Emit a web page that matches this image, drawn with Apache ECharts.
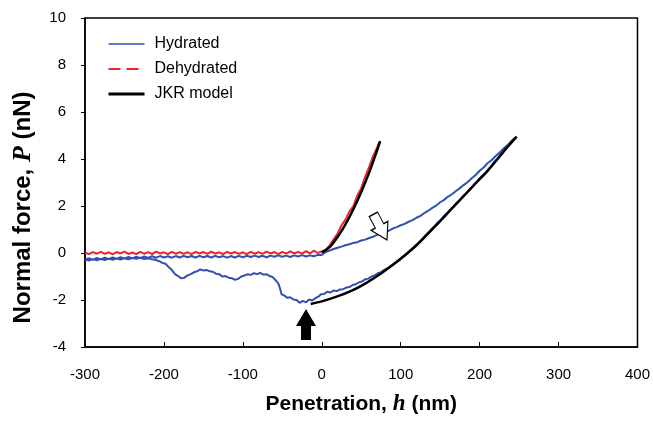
<!DOCTYPE html>
<html>
<head>
<meta charset="utf-8">
<script src="https://cdn.jsdelivr.net/npm/echarts@6/dist/echarts.min.js"></script>
<style>
html,body{margin:0;padding:0;background:#fff;}
#chart{width:653px;height:422px;}
</style>
</head>
<body>
<div id="chart"></div>
<script>
// ---- Data ----
const xTicks = [-300, -200, -100, 0, 100, 200, 300, 400];
const yTicks = [-4, -2, 0, 2, 4, 6, 8, 10];

// Hydrated: approach (flat then rising) followed by retraction (JKR-like, adhesion well)
const hydratedApproach = [
[-300,-0.27],[-295,-0.22],[-290,-0.29],[-285,-0.21],[-280,-0.27],[-275,-0.2],[-270,-0.26],[-265,-0.19],[-260,-0.25],[-255,-0.18],
[-250,-0.24],[-245,-0.17],[-240,-0.23],[-235,-0.16],[-230,-0.22],[-225,-0.15],[-220,-0.21],[-215,-0.14],[-210,-0.2],[-205,-0.13],
[-200,-0.19],[-195,-0.14],[-190,-0.2],[-185,-0.13],[-180,-0.19],[-175,-0.12],[-170,-0.18],[-165,-0.13],[-160,-0.19],[-155,-0.12],
[-150,-0.18],[-145,-0.13],[-140,-0.19],[-135,-0.12],[-130,-0.18],[-125,-0.13],[-120,-0.2],[-115,-0.13],[-110,-0.19],[-105,-0.12],
[-100,-0.18],[-95,-0.12],[-90,-0.17],[-85,-0.11],[-80,-0.17],[-75,-0.12],[-70,-0.18],[-65,-0.11],[-60,-0.16],[-55,-0.1],
[-50,-0.16],[-45,-0.11],[-40,-0.17],[-35,-0.1],[-30,-0.15],[-25,-0.09],[-20,-0.15],[-15,-0.1],[-10,-0.14],[-5,-0.08],
[0,-0.08],[5,0.04],[10,0.1],[15,0.17],[20,0.22],[25,0.27],[30,0.33],[35,0.37],[40,0.43],[45,0.46],
[50,0.53],[55,0.57],[60,0.64],[65,0.69],[70,0.77],[75,0.82],[80,0.9],[85,0.95],[90,1.04],[95,1.1],
[100,1.18],[105,1.24],[110,1.33],[115,1.4],[120,1.5],[125,1.58],[130,1.7],[135,1.8],[140,1.92],[145,2.02],
[150,2.16],[155,2.26],[160,2.4],[165,2.5],[170,2.64],[175,2.76],[180,2.9],[185,3.02],[190,3.18],[195,3.32],
[200,3.5],[205,3.64],[210,3.82],[215,3.95],[220,4.12],[225,4.26],[230,4.44],[235,4.58],[240,4.76],[245,4.9]
];
const hydratedRetract = [
[247,4.95],[243,4.8],[239,4.64],[235,4.52],[231,4.35],[227,4.2],[223,4.03],[219,3.9],[215,3.72],[211,3.56],
[207,3.4],[203,3.28],[199,3.12],[195,2.99],[191,2.83],[187,2.7],[183,2.55],[179,2.42],[175,2.26],[171,2.14],
[167,1.98],[163,1.85],[159,1.7],[155,1.58],[151,1.42],[147,1.3],[143,1.15],[139,1.02],[135,0.87],[131,0.74],
[127,0.59],[123,0.45],[119,0.33],[115,0.19],[111,0.07],[107,-0.06],[103,-0.17],[99,-0.29],[95,-0.38],[91,-0.49],
[87,-0.56],[83,-0.66],[79,-0.72],[75,-0.82],[71,-0.86],[67,-0.95],[63,-1.0],[59,-1.09],[55,-1.12],[51,-1.21],
[47,-1.25],[43,-1.33],[39,-1.36],[35,-1.45],[31,-1.47],[27,-1.54],[23,-1.55],[19,-1.62],[15,-1.6],[11,-1.68],
[7,-1.65],[3,-1.74],[-1,-1.76],[-4,-1.85],[-8,-1.92],[-12,-2.02],[-16,-1.98],[-20,-2.1],[-24,-2.04],[-28,-2.12],
[-32,-2.0],[-36,-1.98],[-40,-1.88],[-44,-1.9],[-48,-1.8],[-51,-1.76],[-53,-1.5],[-55,-1.3],[-58,-1.18],[-62,-1.03],
[-66,-0.98],[-70,-0.9],[-74,-0.92],[-78,-0.85],[-82,-0.9],[-86,-0.86],[-90,-0.93],[-94,-0.9],[-98,-0.96],[-102,-1.0],
[-106,-1.1],[-110,-1.14],[-114,-1.07],[-118,-1.05],[-122,-0.98],[-126,-1.0],[-130,-0.9],[-134,-0.88],[-138,-0.8],[-142,-0.78],
[-146,-0.72],[-150,-0.74],[-154,-0.7],[-158,-0.78],[-162,-0.82],[-166,-0.9],[-170,-0.95],[-174,-1.05],[-178,-1.08],[-182,-0.98],
[-186,-0.9],[-190,-0.72],[-194,-0.6],[-198,-0.46],[-202,-0.42],[-206,-0.35],[-210,-0.3],[-215,-0.27],[-220,-0.22],[-225,-0.26],
[-230,-0.2],[-235,-0.25],[-240,-0.21],[-245,-0.27],[-250,-0.22],[-255,-0.28],[-260,-0.23],[-265,-0.29],[-270,-0.24],[-275,-0.3],
[-280,-0.25],[-285,-0.31],[-290,-0.26],[-295,-0.32],[-300,-0.28]
];
const dehydrated = [
[-300,0.02],[-295,-0.05],[-290,0.04],[-285,-0.03],[-280,0.05],[-275,-0.04],[-270,0.03],[-265,-0.06],[-260,0.04],[-255,-0.02],
[-250,0.06],[-245,-0.04],[-240,0.02],[-235,-0.05],[-230,0.05],[-225,-0.03],[-220,0.04],[-215,-0.05],[-210,0.06],[-205,-0.02],
[-200,0.03],[-195,-0.05],[-190,0.05],[-185,-0.03],[-180,0.04],[-175,-0.04],[-170,0.03],[-165,-0.05],[-160,0.05],[-155,-0.02],
[-150,0.04],[-145,-0.04],[-140,0.06],[-135,-0.03],[-130,0.03],[-125,-0.05],[-120,0.05],[-115,-0.02],[-110,0.04],[-105,-0.04],
[-100,0.03],[-95,-0.05],[-90,0.05],[-85,-0.03],[-80,0.04],[-75,-0.04],[-70,0.06],[-65,-0.02],[-60,0.04],[-55,-0.05],
[-50,0.05],[-45,-0.03],[-40,0.07],[-35,-0.02],[-30,0.05],[-25,-0.03],[-20,0.08],[-15,-0.02],[-10,0.1],[-5,0.0],
[0,0.07],[5,0.14],[10,0.32],[15,0.58],[20,0.83],[25,1.18],[30,1.42],[35,1.76],[40,2.0],[45,2.44],
[50,2.76],[55,3.24],[60,3.66],[65,4.12],[70,4.48],[73,4.72]
];
const jkrDehydrated = [[0,0.02],[10,0.25],[20,0.68],[30,1.22],[40,1.86],[50,2.6],[60,3.42],[70,4.36],[74,4.76]];
const jkrHydrated = [
[-14,-2.17],[0,-2.06],[17,-1.88],[38,-1.6],[55,-1.3],[76,-0.85],[97,-0.32],[119,0.3],[135,0.84],
[150,1.36],[165,1.9],[182,2.5],[196,3.0],[211,3.53],[224,4.05],[235,4.5],[247,4.95]
];
// Annotation arrows (data coordinates)
const blackArrowAt = [-20, -3.04];
const whiteArrowAt = [74, 1.1];

const hydrated = hydratedApproach.concat(hydratedRetract);

const chart = echarts.init(document.getElementById('chart'), null, {renderer: 'canvas'});
const FONT = 'Liberation Sans, Arial, sans-serif';
const SERIF = 'Liberation Serif, Times New Roman, serif';
const BLUE = '#3150b4';
const RED = '#e8262b';

chart.setOption({
  animation: false,
  backgroundColor: '#fff',
  grid: {left: 85, right: 15, top: 18, bottom: 75, show: true, borderColor: '#000', borderWidth: 1.5, backgroundColor: 'transparent'},
  legend: {
    orient: 'vertical', left: 107, top: 36, padding: 0, itemWidth: 36, itemHeight: 14, itemGap: 9,
    itemStyle: {opacity: 0},
    textStyle: {fontFamily: FONT, fontSize: 16, color: '#000', padding: [0, 0, 0, 5]},
    data: [
      {name: 'Hydrated', lineStyle: {width: 1.6, color: BLUE}},
      {name: 'Dehydrated', lineStyle: {type: [12, 6], width: 2, color: RED}},
      {name: 'JKR model', lineStyle: {width: 3, color: '#000'}}
    ]
  },
  xAxis: {
    type: 'value', min: xTicks[0], max: xTicks[xTicks.length - 1], interval: 100,
    axisLine: {onZero: false, lineStyle: {color: '#000', width: 1.5}},
    axisTick: {inside: true, length: 5, lineStyle: {color: '#000', width: 1}},
    axisLabel: {fontFamily: FONT, fontSize: 15, color: '#000', margin: 20},
    splitLine: {show: false},
    name: '{b|Penetration, }{i|h}{b| (nm)}',
    nameLocation: 'middle', nameGap: 46,
    nameTextStyle: {rich: {
      b: {fontFamily: FONT, fontWeight: 'bold', fontSize: 21, color: '#000'},
      i: {fontFamily: SERIF, fontStyle: 'italic', fontWeight: 'bold', fontSize: 23, color: '#000'}
    }}
  },
  yAxis: {
    type: 'value', min: yTicks[0], max: yTicks[yTicks.length - 1], interval: 2,
    axisLine: {onZero: false, lineStyle: {color: '#000', width: 1.5}},
    axisTick: {inside: false, length: 4, lineStyle: {color: '#000', width: 1}},
    axisLabel: {fontFamily: FONT, fontSize: 15, color: '#000', margin: 19},
    splitLine: {show: false},
    name: '{b|Normal force, }{i|P}{b| (nN)}',
    nameLocation: 'middle', nameRotate: 90, nameGap: 49,
    nameTextStyle: {padding: [0, 50, 0, 0], rich: {
      b: {fontFamily: FONT, fontWeight: 'bold', fontSize: 24, color: '#000'},
      i: {fontFamily: SERIF, fontStyle: 'italic', fontWeight: 'bold', fontSize: 26, color: '#000'}
    }}
  },
  series: [
    {
      name: 'Hydrated', type: 'line', data: hydrated, symbol: 'none',
      lineStyle: {color: BLUE, width: 2}, itemStyle: {color: BLUE},
      markPoint: {
        silent: true,
        label: {show: false},
        data: [
          {coord: blackArrowAt, symbol: 'path://M10,0 L20,17 L15,17 L15,31 L5,31 L5,17 L0,17 Z',
           symbolSize: [20, 31], itemStyle: {color: '#000', opacity: 1}},
          {coord: whiteArrowAt, symbol: 'path://M5,0 L15,0 L15,14 L20,14 L10,31 L0,14 L5,14 Z',
           symbolSize: [19, 29], symbolRotate: 28, itemStyle: {color: '#fff', borderColor: '#000', borderWidth: 1.2, opacity: 1}}
        ]
      }
    },
    {
      name: 'Dehydrated', type: 'line', data: dehydrated, symbol: 'none',
      lineStyle: {color: RED, width: 2}, itemStyle: {color: RED}
    },
    {
      name: 'JKR model', type: 'line', data: jkrHydrated, symbol: 'none', smooth: 0.3,
      lineStyle: {color: '#000', width: 2.5}, itemStyle: {color: '#000'}
    },
    {
      name: 'JKR model', type: 'line', data: jkrDehydrated, symbol: 'none', smooth: 0.3,
      lineStyle: {color: '#000', width: 2.5}, itemStyle: {color: '#000'}
    }
  ]
});
</script>
</body>
</html>
